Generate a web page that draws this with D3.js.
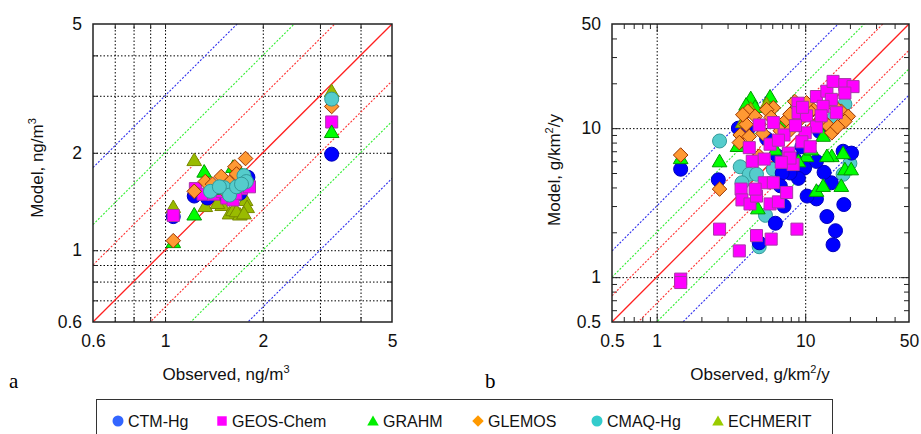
<!DOCTYPE html>
<html>
<head>
<meta charset="utf-8">
<script src="https://cdn.jsdelivr.net/npm/d3@7"></script>
<style>
  body { margin: 0; background: #fff; }
  svg { display: block; font-family: Arial, "Liberation Sans", sans-serif; }
  .lbl text { font-size: 17.5px; fill: #111; }
  .lbl path, .tk path, .grid path { display: none; }
  .tk line { stroke: #222; stroke-width: 1; }
  .grid line { stroke: #000; stroke-width: 1; stroke-dasharray: 1.5,2; }
</style>
</head>
<body>
<svg width="921" height="434"></svg>
<script>
// model names + colours
const models = ["CTM-Hg", "GEOS-Chem", "GRAHM", "GLEMOS", "CMAQ-Hg", "ECHMERIT"];
const shapes = ["circle", "square", "triangle", "diamond", "circle", "triangle"];
const fills = ["#0000ff", "#ff00ff", "#00ff00", "#ff9933", "#55cccc", "#99bb00"];
const strokes = ["#0000bb", "#aa33aa", "#009900", "#993300", "#339999", "#778800"];
const legendFills = ["#3366ff", "#ff00ff", "#00ee00", "#ff9900", "#33cccc", "#99cc00"];

// panel a: [observed, model] ng/m3
const ctmA = [[1.06,1.27],[3.26,1.98],[1.23,1.47],[1.35,1.45],[1.5,1.5],[1.62,1.55],[1.75,1.62],[1.8,1.68],[1.45,1.52],[1.7,1.5]];
const geosA = [[1.06,1.28],[3.26,2.49],[1.24,1.55],[1.31,1.49],[1.41,1.49],[1.55,1.45],[1.62,1.43],[1.72,1.55],[1.82,1.57],[1.5,1.52],[1.65,1.5]];
const grahmA = [[1.06,1.06],[3.26,2.32],[1.32,1.75],[1.23,1.29],[1.62,1.81],[1.7,1.75],[1.5,1.6],[1.78,1.7],[1.4,1.55]];
const glemosA = [[1.06,1.07],[3.26,2.78],[1.77,1.92],[1.23,1.52],[1.33,1.63],[1.49,1.69],[1.64,1.81],[1.66,1.72],[1.58,1.62],[1.4,1.6],[1.7,1.58],[1.55,1.5]];
const cmaqA = [[3.26,2.93],[1.38,1.52],[1.52,1.56],[1.58,1.48],[1.66,1.57],[1.75,1.70],[1.78,1.63],[1.47,1.57],[1.72,1.6]];
const echA = [[1.06,1.36],[3.26,3.1],[1.23,1.90],[1.33,1.37],[1.5,1.38],[1.58,1.3],[1.62,1.33],[1.7,1.29],[1.77,1.43],[1.79,1.36],[1.45,1.4],[1.66,1.32],[1.75,1.3]];

// panel b: [observed, model] g/km2/y
const ctmB = [[15.4,1.65],[16,2.05],[14,2.55],[18.2,3.07],[15,4.3],[13.4,5.05],[11.9,3.35],[10.3,3.5],[11.9,5.98],[18,7.0],[20.5,6.8],[9.9,5.4],[9,4.6],[7.9,5.0],[7.0,5.0],[6.3,2.3],[7.2,3.0],[4.9,1.7],[6.8,4.1],[3.55,10.0],[4.1,9.8],[2.6,4.5],[1.45,5.3],[9.5,7.5],[12.5,9.5],[5.5,8.5],[6.5,6.5],[8.5,6.2]];
const geosB = [[1.45,0.97],[1.45,0.92],[2.65,2.1],[3.6,1.5],[4.7,1.9],[5.9,1.8],[8.8,2.1],[3.7,3.9],[3.75,3.3],[4.25,3.1],[4.7,3.5],[5.3,4.3],[6.1,4.3],[5.8,3.1],[6.6,3.2],[7.5,3.7],[4.2,7.4],[4.4,6.0],[4.9,10.5],[6.1,10.9],[7.2,9.0],[5.8,7.8],[7.7,6.8],[8.3,5.7],[7.9,6.3],[8.95,14.7],[8.95,12.7],[10.2,12.1],[11.9,10.2],[10.0,9.3],[9.5,8.1],[10.8,7.5],[11.9,16.3],[14,17.7],[15.4,20.6],[15.0,15.6],[13.2,14.0],[18.5,19.6],[21,19],[18.5,17.2],[12.8,12.1],[16.2,12.7],[6.6,8.3],[5.3,6.2],[6.9,5.9],[4.6,3.9],[8.6,10.4],[9.6,13.8]];
const grahmB = [[4.3,15.9],[5.8,16.3],[4.0,14.4],[4.8,2.9],[11.9,3.8],[13.2,4.1],[15.1,6.5],[18,6.8],[18.5,5.3],[20.4,5.3],[17.5,4.1],[14,6.5],[13.2,8.9],[10.2,6.5],[7.0,10.4],[8.3,13.4],[2.65,6.0],[1.45,6.3],[3.5,7.6],[4.6,13.9],[6.3,7.2],[9.0,6.0],[11,7.2]];
const glemosB = [[1.45,6.6],[2.65,3.9],[4.1,13.0],[4.6,12.0],[4.9,6.5],[3.65,9.0],[3.6,8.0],[4.2,8.8],[6.1,13.7],[5.5,13.3],[7.5,11.4],[8.5,15.1],[9.2,14.0],[11.3,13.3],[14,10.6],[15.1,9.3],[17.5,13.0],[19.5,12.0],[18.5,11.1],[4.9,10.6],[9.2,11.4],[10.8,12.9],[4.0,10.6],[5.2,9.2],[5.9,11.8],[6.8,9.6],[7.9,12.4],[8.0,9.8],[3.8,12.3],[10.2,14.8],[12.8,11.5],[16,13.8],[16.5,10.2]];
const cmaqB = [[2.65,8.2],[3.65,5.5],[4.2,4.9],[3.75,4.3],[4.9,1.6],[5.4,2.6],[18.5,14.5],[20,5.8],[18,4.9],[15.5,11.6],[4.7,4.9],[6.1,5.3]];
const echB = [[4.3,13.5],[5.5,14.5],[8.5,14],[12,11],[3.8,11]];

const seriesA = [ctmA, geosA, grahmA, glemosA, cmaqA, echA];
const seriesB = [ctmB, geosB, grahmB, glemosB, cmaqB, echB];
// draw order per panel (back to front)
const orderA = [5, 0, 1, 2, 3, 4];
const orderB = [4, 0, 2, 5, 3, 1];

// reference lines y = k*x
const ratios = [1, 1.5, 1/1.5, 2, 1/2, 3, 1/3];
const ratioColors = ["#ff2020", "#ff3030", "#ff3030", "#30ee30", "#30ee30", "#2f2fee", "#2f2fee"];

const ticksA = [0.6, 1, 2, 5];
const minorA = [0.7, 0.8, 0.9, 1, 2, 3, 4];
const ticksB = [0.5, 1, 10, 50];
const minorB = [0.6, 0.7, 0.8, 0.9, 2, 3, 4, 5, 6, 7, 8, 9, 20, 30, 40];
const gridB = [1, 10];

const svg = d3.select("svg");
svg.append("rect").attr("width", 921).attr("height", 434).attr("fill", "#fff");

function markerPath(shape, s) {
  const p = d3.path();
  if (shape === "circle") {
    p.arc(0, 0, s / 2, 0, 2 * Math.PI);
  } else if (shape === "square") {
    const h = s * 0.43;
    p.rect(-h, -h, 2 * h, 2 * h);
  } else if (shape === "triangle") {
    const h = s * 0.5;
    p.moveTo(0, -h * 1.0); p.lineTo(h * 1.05, h * 0.8); p.lineTo(-h * 1.05, h * 0.8); p.closePath();
  } else {
    const h = s * 0.52;
    p.moveTo(0, -h); p.lineTo(h, 0); p.lineTo(0, h); p.lineTo(-h, 0); p.closePath();
  }
  return p.toString();
}

function panel(id, x, y, ticks, minor, grid, series, order, majorTick) {
  const [x0, x1] = x.range();
  const [y0, y1] = y.range();
  const w = x1 - x0, h = y0 - y1;
  const g = svg.append("g");

  g.append("clipPath").attr("id", id)
    .append("rect").attr("x", x0).attr("y", y1).attr("width", w).attr("height", h);

  // dotted grid
  g.append("g").attr("class", "grid").attr("transform", `translate(0,${y0})`)
    .call(d3.axisBottom(x).tickValues(grid).tickSize(-h).tickFormat(""));
  g.append("g").attr("class", "grid").attr("transform", `translate(${x0},0)`)
    .call(d3.axisLeft(y).tickValues(grid).tickSize(-w).tickFormat(""));

  // inward ticks, all four sides
  const tickSets = [[minor, 5], [majorTick, 8]];
  tickSets.forEach(([vals, len]) => {
    if (!vals.length) return;
    g.append("g").attr("class", "tk").attr("transform", `translate(0,${y0})`)
      .call(d3.axisBottom(x).tickValues(vals).tickSize(-len).tickFormat(""));
    g.append("g").attr("class", "tk").attr("transform", `translate(0,${y1})`)
      .call(d3.axisTop(x).tickValues(vals).tickSize(-len).tickFormat(""));
    g.append("g").attr("class", "tk").attr("transform", `translate(${x0},0)`)
      .call(d3.axisLeft(y).tickValues(vals).tickSize(-len).tickFormat(""));
    g.append("g").attr("class", "tk").attr("transform", `translate(${x1},0)`)
      .call(d3.axisRight(y).tickValues(vals).tickSize(-len).tickFormat(""));
  });

  // y = k x lines
  const lo = x.domain()[0], hi = x.domain()[1];
  g.append("g").attr("clip-path", `url(#${id})`)
    .selectAll("line").data(ratios).join("line")
    .attr("x1", x(lo)).attr("y1", k => y(lo * k))
    .attr("x2", x(hi)).attr("y2", k => y(hi * k))
    .attr("stroke", (k, i) => ratioColors[i])
    .attr("stroke-width", (k, i) => i === 0 ? 1.3 : 1.1)
    .attr("stroke-dasharray", (k, i) => i === 0 ? null : "2,1.6");

  // points
  const pts = g.append("g").attr("clip-path", `url(#${id})`);
  order.forEach(m => {
    pts.append("g").selectAll("path").data(series[m]).join("path")
      .attr("transform", d => `translate(${x(d[0])},${y(d[1])})`)
      .attr("d", markerPath(shapes[m], 14))
      .attr("fill", fills[m])
      .attr("stroke", strokes[m])
      .attr("stroke-width", 1);
  });

  // frame
  g.append("rect").attr("x", x0).attr("y", y1).attr("width", w).attr("height", h)
    .attr("fill", "none").attr("stroke", "#222").attr("stroke-width", 1.5);

  // tick labels
  const fmt = d3.format("");
  g.append("g").attr("class", "lbl").attr("transform", `translate(0,${y0})`)
    .call(d3.axisBottom(x).tickValues(ticks).tickSize(0).tickPadding(13).tickFormat(fmt));
  g.append("g").attr("class", "lbl").attr("transform", `translate(${x0},0)`)
    .call(d3.axisLeft(y).tickValues(ticks).tickSize(0).tickPadding(11).tickFormat(fmt));
  return g;
}

const xA = d3.scaleLog().domain([0.6, 5]).range([93, 392]);
const yA = d3.scaleLog().domain([0.6, 5]).range([322, 24]);
const xB = d3.scaleLog().domain([0.5, 50]).range([612, 909]);
const yB = d3.scaleLog().domain([0.5, 50]).range([322, 24]);

panel("clipA", xA, yA, ticksA, minorA, minorA, seriesA, orderA, []);
panel("clipB", xB, yB, ticksB, minorB, gridB, seriesB, orderB, gridB);

// axis titles with superscripts
function title(x, y, rot, main, sup, tail) {
  const t = svg.append("text")
    .attr("transform", `translate(${x},${y}) rotate(${rot})`)
    .attr("text-anchor", "middle")
    .attr("font-size", 17).attr("fill", "#111");
  t.append("tspan").text(main);
  t.append("tspan").attr("dy", -7).attr("font-size", 11).text(sup);
  if (tail) t.append("tspan").attr("dy", 7).text(tail);
}
title(226, 380, 0, "Observed, ng/m", "3");
title(43, 168, -90, "Model, ng/m", "3");
title(760, 380, 0, "Observed, g/km", "2", "/y");
title(560, 170, -90, "Model, g/km", "2", "/y");

svg.append("text").attr("x", 9).attr("y", 388)
  .attr("font-family", "'Liberation Serif', 'Times New Roman', serif")
  .attr("font-size", 21).text("a");
svg.append("text").attr("x", 485).attr("y", 388)
  .attr("font-family", "'Liberation Serif', 'Times New Roman', serif")
  .attr("font-size", 21).text("b");

// legend
const legX = [118, 222, 373, 478, 597, 718];
const leg = svg.append("g");
leg.append("rect").attr("x", 96.5).attr("y", 399.5).attr("width", 736).attr("height", 60)
  .attr("fill", "#fff").attr("stroke", "#333").attr("stroke-width", 1);
models.forEach((name, i) => {
  leg.append("path")
    .attr("transform", `translate(${legX[i]},${421})`)
    .attr("d", markerPath(shapes[i], 11))
    .attr("fill", legendFills[i]);
  leg.append("text").attr("x", legX[i] + 10).attr("y", 426.5)
    .attr("font-size", 16).attr("fill", "#111").text(name);
});
</script>
</body>
</html>
